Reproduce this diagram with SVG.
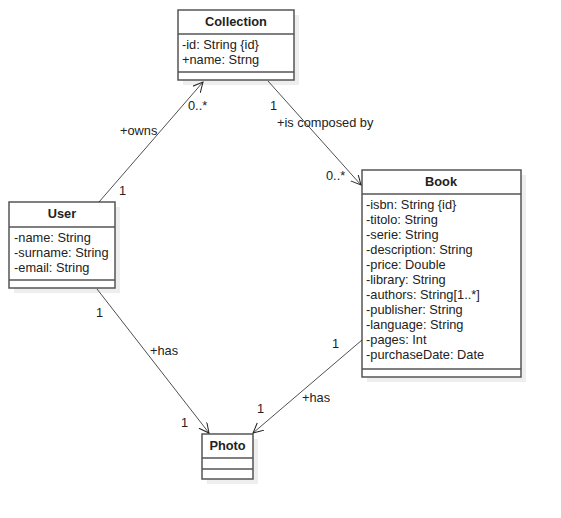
<svg xmlns="http://www.w3.org/2000/svg" width="561" height="518" viewBox="0 0 561 518">
<style>
text{font-family:"Liberation Sans",Arial,sans-serif;font-size:12.8px;fill:#222}
.t{font-weight:bold;text-anchor:middle}
.box{fill:#fff;stroke:#555;stroke-width:1.5}
.sh{fill:#eeeeee}
.ln{stroke:#555;stroke-width:1.5}
.c{stroke:#222;stroke-width:0.8;fill:none}
</style>
<defs>
<marker id="ar" markerWidth="12" markerHeight="12" refX="10" refY="5" orient="auto" markerUnits="userSpaceOnUse">
<path d="M0,0 L10,5 L0,10" fill="none" stroke="#222" stroke-width="1"/>
</marker>
</defs>
<rect width="561" height="518" fill="#fff"/>
<g id="Collection">
<rect class="sh" x="183" y="15" width="116" height="70"/>
<rect class="box" x="178" y="10" width="116" height="70"/>
<line class="ln" x1="178" y1="34" x2="294" y2="34"/>
<line class="ln" x1="178" y1="72" x2="294" y2="72"/>
<text class="t" x="236" y="26">Collection</text>
<text x="182" y="49">-id: String {id}</text>
<text x="182" y="64">+name: Strng</text>
</g>
<g id="User">
<rect class="sh" x="14" y="207" width="106" height="86"/>
<rect class="box" x="9" y="202" width="106" height="86"/>
<line class="ln" x1="9" y1="227" x2="115" y2="227"/>
<line class="ln" x1="9" y1="280" x2="115" y2="280"/>
<text class="t" x="62" y="218">User</text>
<text x="14" y="242">-name: String</text>
<text x="14" y="257">-surname: String</text>
<text x="14" y="272">-email: String</text>
</g>
<g id="Book">
<rect class="sh" x="367" y="175" width="159" height="207"/>
<rect class="box" x="362" y="170" width="159" height="207"/>
<line class="ln" x1="362" y1="194" x2="521" y2="194"/>
<line class="ln" x1="362" y1="369" x2="521" y2="369"/>
<text class="t" x="441" y="186">Book</text>
<text x="366" y="209">-isbn: String {id}</text>
<text x="366" y="224">-titolo: String</text>
<text x="366" y="239">-serie: String</text>
<text x="366" y="254">-description: String</text>
<text x="366" y="269">-price: Double</text>
<text x="366" y="284">-library: String</text>
<text x="366" y="299">-authors: String[1..*]</text>
<text x="366" y="314">-publisher: String</text>
<text x="366" y="329">-language: String</text>
<text x="366" y="344">-pages: Int</text>
<text x="366" y="359">-purchaseDate: Date</text>
</g>
<g id="Photo">
<rect class="sh" x="207" y="439" width="51" height="45"/>
<rect class="box" x="202" y="434" width="51" height="45"/>
<line class="ln" x1="202" y1="458" x2="253" y2="458"/>
<line class="ln" x1="202" y1="469" x2="253" y2="469"/>
<text class="t" x="227.5" y="450">Photo</text>
</g>
<g id="connectors">
<line class="c" x1="99" y1="202" x2="203" y2="82" marker-end="url(#ar)"/>
<line class="c" x1="268" y1="81" x2="361" y2="185" marker-end="url(#ar)"/>
<line class="c" x1="97" y1="289" x2="209" y2="433" marker-end="url(#ar)"/>
<line class="c" x1="362" y1="340" x2="253" y2="433" marker-end="url(#ar)"/>
<text x="188" y="110">0..*</text>
<text x="120" y="135">+owns</text>
<text x="119" y="195">1</text>
<text x="270" y="110">1</text>
<text x="277" y="127">+is composed by</text>
<text x="326" y="180">0..*</text>
<text x="96" y="317">1</text>
<text x="150" y="355">+has</text>
<text x="181" y="427">1</text>
<text x="332" y="348">1</text>
<text x="302" y="402">+has</text>
<text x="257" y="413">1</text>
</g>
</svg>
